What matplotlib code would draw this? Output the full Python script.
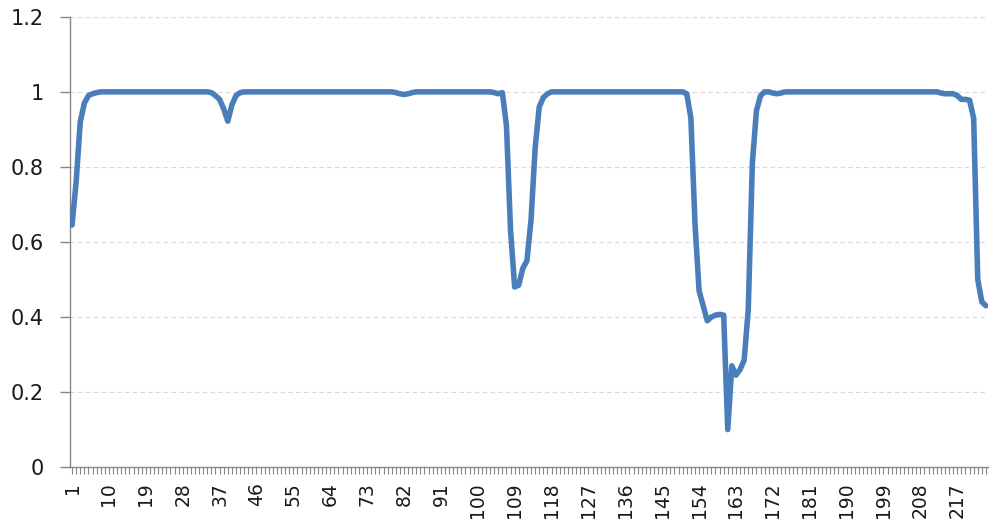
import matplotlib
matplotlib.use("Agg")
import matplotlib.pyplot as plt
from matplotlib.ticker import FixedLocator, MultipleLocator

# Category index (1..224) and series values
categories = list(range(1, 225))
values = [
    0.645, 0.76, 0.92, 0.97, 0.99, 0.995, 0.998, 1.0, 1.0,
    1.0, 1.0, 1.0, 1.0, 1.0, 1.0, 1.0, 1.0, 1.0, 1.0, 1.0, 1.0,
    1.0, 1.0, 1.0, 1.0, 1.0, 1.0, 1.0, 1.0, 1.0, 1.0, 1.0, 1.0,
    1.0, 0.998, 0.99, 0.98, 0.955, 0.922, 0.965, 0.99, 0.998,
    1.0, 1.0, 1.0, 1.0, 1.0, 1.0, 1.0, 1.0, 1.0, 1.0, 1.0, 1.0,
    1.0, 1.0, 1.0, 1.0, 1.0, 1.0, 1.0, 1.0, 1.0, 1.0, 1.0, 1.0,
    1.0, 1.0, 1.0, 1.0, 1.0, 1.0, 1.0, 1.0, 1.0, 1.0, 1.0, 1.0,
    1.0, 0.998, 0.995, 0.993, 0.995, 0.998,
    1.0, 1.0, 1.0, 1.0, 1.0, 1.0, 1.0, 1.0, 1.0, 1.0, 1.0, 1.0,
    1.0, 1.0, 1.0, 1.0, 1.0, 1.0, 1.0,
    0.998, 0.995, 0.998, 0.91, 0.63, 0.48, 0.485, 0.53, 0.55, 0.66,
    0.85, 0.96, 0.985, 0.995,
    1.0, 1.0, 1.0, 1.0, 1.0, 1.0, 1.0, 1.0, 1.0, 1.0, 1.0, 1.0,
    1.0, 1.0, 1.0, 1.0, 1.0, 1.0, 1.0, 1.0, 1.0, 1.0, 1.0, 1.0,
    1.0, 1.0, 1.0, 1.0, 1.0, 1.0, 1.0, 1.0, 1.0,
    0.995, 0.93, 0.65, 0.47, 0.43, 0.39, 0.40, 0.405, 0.407, 0.405,
    0.10, 0.27, 0.245, 0.26, 0.285, 0.42, 0.81, 0.95, 0.99, 1.0,
    1.0, 0.997, 0.995, 0.997,
    1.0, 1.0, 1.0, 1.0, 1.0, 1.0, 1.0, 1.0, 1.0, 1.0, 1.0, 1.0,
    1.0, 1.0, 1.0, 1.0, 1.0, 1.0, 1.0, 1.0, 1.0, 1.0, 1.0, 1.0,
    1.0, 1.0, 1.0, 1.0, 1.0, 1.0, 1.0, 1.0, 1.0, 1.0, 1.0, 1.0,
    1.0, 1.0,
    0.997, 0.995, 0.995, 0.995, 0.99, 0.98, 0.98, 0.978, 0.93, 0.50,
    0.44, 0.43,
]
assert len(values) == len(categories)

x_tick_labels = ["1", "10", "19", "28", "37", "46", "55", "64", "73", "82",
                 "91", "100", "109", "118", "127", "136", "145", "154", "163",
                 "172", "181", "190", "199", "208", "217"]
y_ticks = [0, 0.2, 0.4, 0.6, 0.8, 1.0, 1.2]
y_tick_labels = ["0", "0.2", "0.4", "0.6", "0.8", "1", "1.2"]

plt.rcParams['font.family'] = ['DejaVu Sans']

fig = plt.figure(figsize=(10, 5.26), dpi=100)
ax = fig.add_axes([0.070, 0.112, 0.918, 0.856])

ax.plot(categories, values, color="#4a7ebb", linewidth=4.0,
        solid_joinstyle="round", solid_capstyle="round", zorder=3)

ax.set_xlim(0.5, len(categories) + 0.5)
ax.set_ylim(0, 1.2)

ax.set_yticks(y_ticks)
ax.set_yticklabels(y_tick_labels)
label_pos = [int(s) for s in x_tick_labels]
ax.xaxis.set_major_locator(FixedLocator(label_pos))
ax.set_xticklabels(x_tick_labels, rotation=90)
ax.xaxis.set_minor_locator(MultipleLocator(1))

for g in y_ticks[1:]:
    ax.axhline(g, color="#d9d9d9", linewidth=0.8, linestyle=(0, (4, 3)), zorder=1)

for side in ["top", "right"]:
    ax.spines[side].set_visible(False)
for side in ["left", "bottom"]:
    ax.spines[side].set_color("#868686")
    ax.spines[side].set_linewidth(1.0)

ax.tick_params(axis="y", which="major", direction="out", length=7, width=1,
               color="#868686", labelsize=15, pad=12, labelcolor="#1a1a1a")
ax.tick_params(axis="x", which="major", direction="out", length=5, width=0.8,
               color="#868686", labelsize=13.5, pad=6, labelcolor="#1a1a1a")
ax.tick_params(axis="x", which="minor", direction="out", length=5, width=0.8,
               color="#868686")

fig.savefig("out.png", dpi=100)
